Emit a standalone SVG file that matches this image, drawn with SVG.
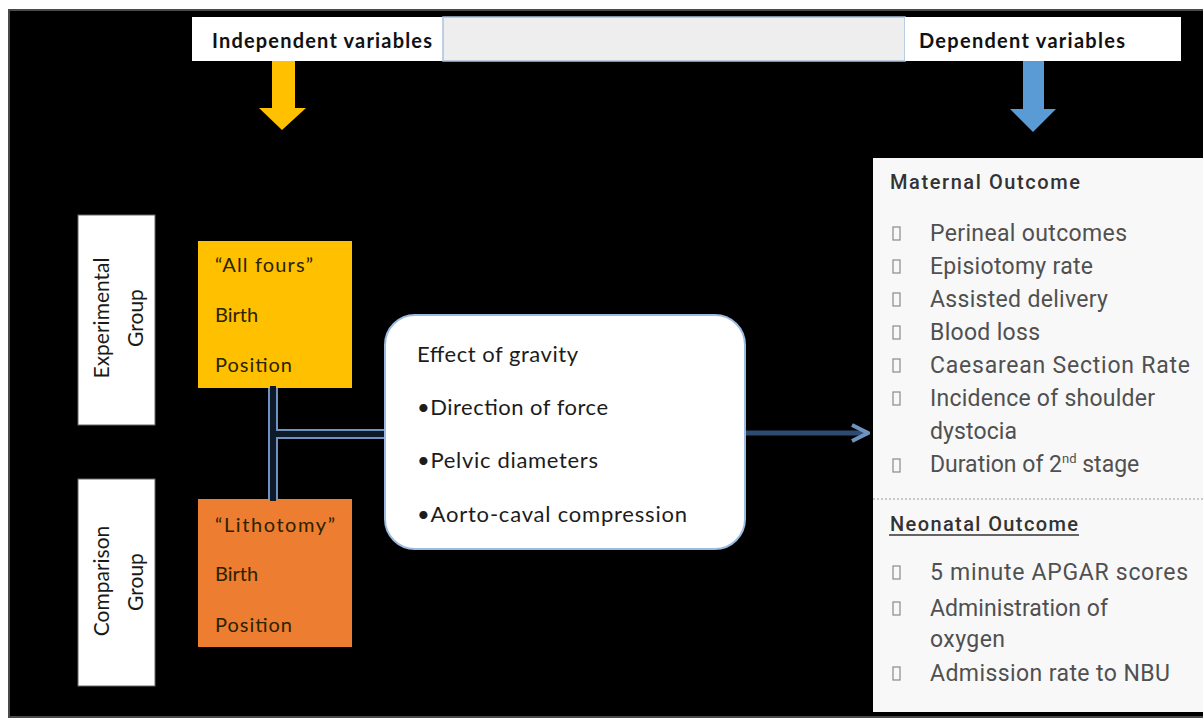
<svg xmlns="http://www.w3.org/2000/svg" width="1203" height="720" viewBox="0 0 1203 720">
  <defs>
    <style>
      .hdr { font-family: Lato, "Liberation Sans", sans-serif; font-weight: bold; font-size: 20px; fill: #111; }
      .grp { font-family: Lato, "Liberation Sans", sans-serif; font-size: 21px; fill: #1a1a1a; }
      .pos { font-family: Lato, "Liberation Sans", sans-serif; font-size: 20px; fill: #2b2200; }
      .eff { font-family: Lato, "Liberation Sans", sans-serif; font-size: 22px; fill: #1c1c1c; }
      .out { font-family: Roboto, "Liberation Sans", sans-serif; font-size: 23px; fill: #505050; }
      .ttl { font-family: Roboto, "Liberation Sans", sans-serif; font-size: 20px; font-weight: 500; fill: #333; }
      .tofu { fill: none; stroke: #8a8a8a; stroke-width: 1.2; }
      .conn-outer { fill: none; stroke: #6f93bf; stroke-width: 10; }
      .conn-inner { fill: none; stroke: #0e1a2a; stroke-width: 6; }
    </style>
    <marker id="chev" viewBox="0 0 10 10" refX="9" refY="5" markerWidth="4" markerHeight="4" orient="auto" markerUnits="strokeWidth">
      <path d="M1,1 L9,5 L1,9" fill="none" stroke="#6f93bf" stroke-width="2"/>
    </marker>
  </defs>

  <!-- page and dark frame -->
  <rect x="0" y="0" width="1203" height="720" fill="#ffffff"/>
  <rect x="9" y="10" width="1196" height="707" fill="#000000" stroke="#4a4a4a" stroke-width="2"/>

  <!-- header strip -->
  <g id="header-independent">
    <rect x="192" y="17" width="251" height="44" fill="#ffffff"/>
    <text class="hdr" x="212" y="48" textLength="220">Independent variables</text>
  </g>
  <g id="header-spacer">
    <rect x="443" y="17" width="462" height="44" fill="#eeeeee" stroke="#a9c2df" stroke-width="1.5"/>
  </g>
  <g id="header-dependent">
    <rect x="905" y="17" width="276" height="44" fill="#ffffff"/>
    <text class="hdr" x="919" y="48" textLength="206">Dependent variables</text>
  </g>

  <!-- downward arrows -->
  <g id="arrow-independent">
    <polygon points="272,61 295,61 295,108 306,108 282,130 259,108 272,108" fill="#ffc000"/>
  </g>
  <g id="arrow-dependent">
    <polygon points="1023,61 1044,61 1044,109 1056,109 1033,132 1010,109 1023,109" fill="#5b9bd5"/>
  </g>

  <!-- group labels -->
  <g id="experimental-group">
    <rect x="78" y="215" width="77" height="210" fill="#ffffff" stroke="#666" stroke-width="1"/>
    <text class="grp" text-anchor="middle" transform="translate(109,318) rotate(-90)">Experimental</text>
    <text class="grp" text-anchor="middle" transform="translate(143,318) rotate(-90)">Group</text>
  </g>
  <g id="comparison-group">
    <rect x="78" y="479" width="77" height="207" fill="#ffffff" stroke="#666" stroke-width="1"/>
    <text class="grp" text-anchor="middle" transform="translate(109,581) rotate(-90)">Comparison</text>
    <text class="grp" text-anchor="middle" transform="translate(143,582) rotate(-90)">Group</text>
  </g>

  <!-- birth positions -->
  <g id="all-fours">
    <rect x="198" y="241" width="154" height="147" fill="#ffc000"/>
    <text class="pos" x="215" y="272" textLength="98">“All fours”</text>
    <text class="pos" x="215" y="322">Birth</text>
    <text class="pos" x="215" y="372" textLength="77">Position</text>
  </g>
  <g id="lithotomy">
    <rect x="198" y="499" width="154" height="148" fill="#ed7d31"/>
    <text class="pos" x="215" y="532" textLength="120">“Lithotomy”</text>
    <text class="pos" x="215" y="581">Birth</text>
    <text class="pos" x="215" y="632" textLength="77">Position</text>
  </g>

  <!-- connectors -->
  <g id="connectors">
    <path class="conn-outer" d="M273,388 V499 M273,434 H386"/>
    <path class="conn-inner" d="M273,386 V501 M276,434 H388"/>
    <path d="M745,433 H868" fill="none" stroke="#2d4b70" stroke-width="5" marker-end="url(#chev)"/>
  </g>

  <!-- mechanism box -->
  <g id="gravity-effect">
    <rect x="385" y="315" width="360" height="234" rx="30" ry="30" fill="#ffffff" stroke="#9dbbe0" stroke-width="2"/>
    <text class="eff" x="417" y="362" textLength="161">Effect of gravity</text>
    <text class="eff" x="417" y="415" textLength="191">•Direction of force</text>
    <text class="eff" x="417" y="468" textLength="181">•Pelvic diameters</text>
    <text class="eff" x="417" y="522" textLength="270">•Aorto-caval compression</text>
  </g>

  <!-- outcomes panel -->
  <g id="outcomes">
    <rect x="873" y="158" width="332" height="554" fill="#f8f8f8"/>
    <text class="ttl" x="890" y="189" textLength="190">Maternal Outcome</text>

    <rect class="tofu" x="893" y="227" width="7" height="13"/>
    <text class="out" x="930" y="241" textLength="197">Perineal outcomes</text>
    <rect class="tofu" x="893" y="260" width="7" height="13"/>
    <text class="out" x="930" y="274" textLength="163">Episiotomy rate</text>
    <rect class="tofu" x="893" y="293" width="7" height="13"/>
    <text class="out" x="930" y="307" textLength="178">Assisted delivery</text>
    <rect class="tofu" x="893" y="326" width="7" height="13"/>
    <text class="out" x="930" y="340" textLength="110">Blood loss</text>
    <rect class="tofu" x="893" y="359" width="7" height="13"/>
    <text class="out" x="930" y="373" textLength="260">Caesarean Section Rate</text>
    <rect class="tofu" x="893" y="392" width="7" height="13"/>
    <text class="out" x="930" y="406" textLength="225">Incidence of shoulder</text>
    <text class="out" x="930" y="439" textLength="87">dystocia</text>
    <rect class="tofu" x="893" y="459" width="7" height="13"/>
    <text class="out" x="930" y="472">Duration of 2<tspan font-size="13" dy="-9">nd</tspan><tspan dy="9">  stage</tspan></text>

    <line x1="873" y1="499" x2="1203" y2="499" stroke="#9a9a9a" stroke-width="1" stroke-dasharray="2,2"/>

    <text class="ttl" x="890" y="531" textLength="188">Neonatal Outcome</text>
    <line x1="889" y1="535" x2="1079" y2="535" stroke="#333" stroke-width="1.5"/>

    <rect class="tofu" x="893" y="566" width="7" height="13"/>
    <text class="out" x="930" y="580" textLength="258">5 minute APGAR scores</text>
    <rect class="tofu" x="893" y="602" width="7" height="13"/>
    <text class="out" x="930" y="616" textLength="178">Administration of</text>
    <text class="out" x="930" y="647" textLength="75">oxygen</text>
    <rect class="tofu" x="893" y="667" width="7" height="13"/>
    <text class="out" x="930" y="681" textLength="240">Admission rate to NBU</text>
  </g>
</svg>
